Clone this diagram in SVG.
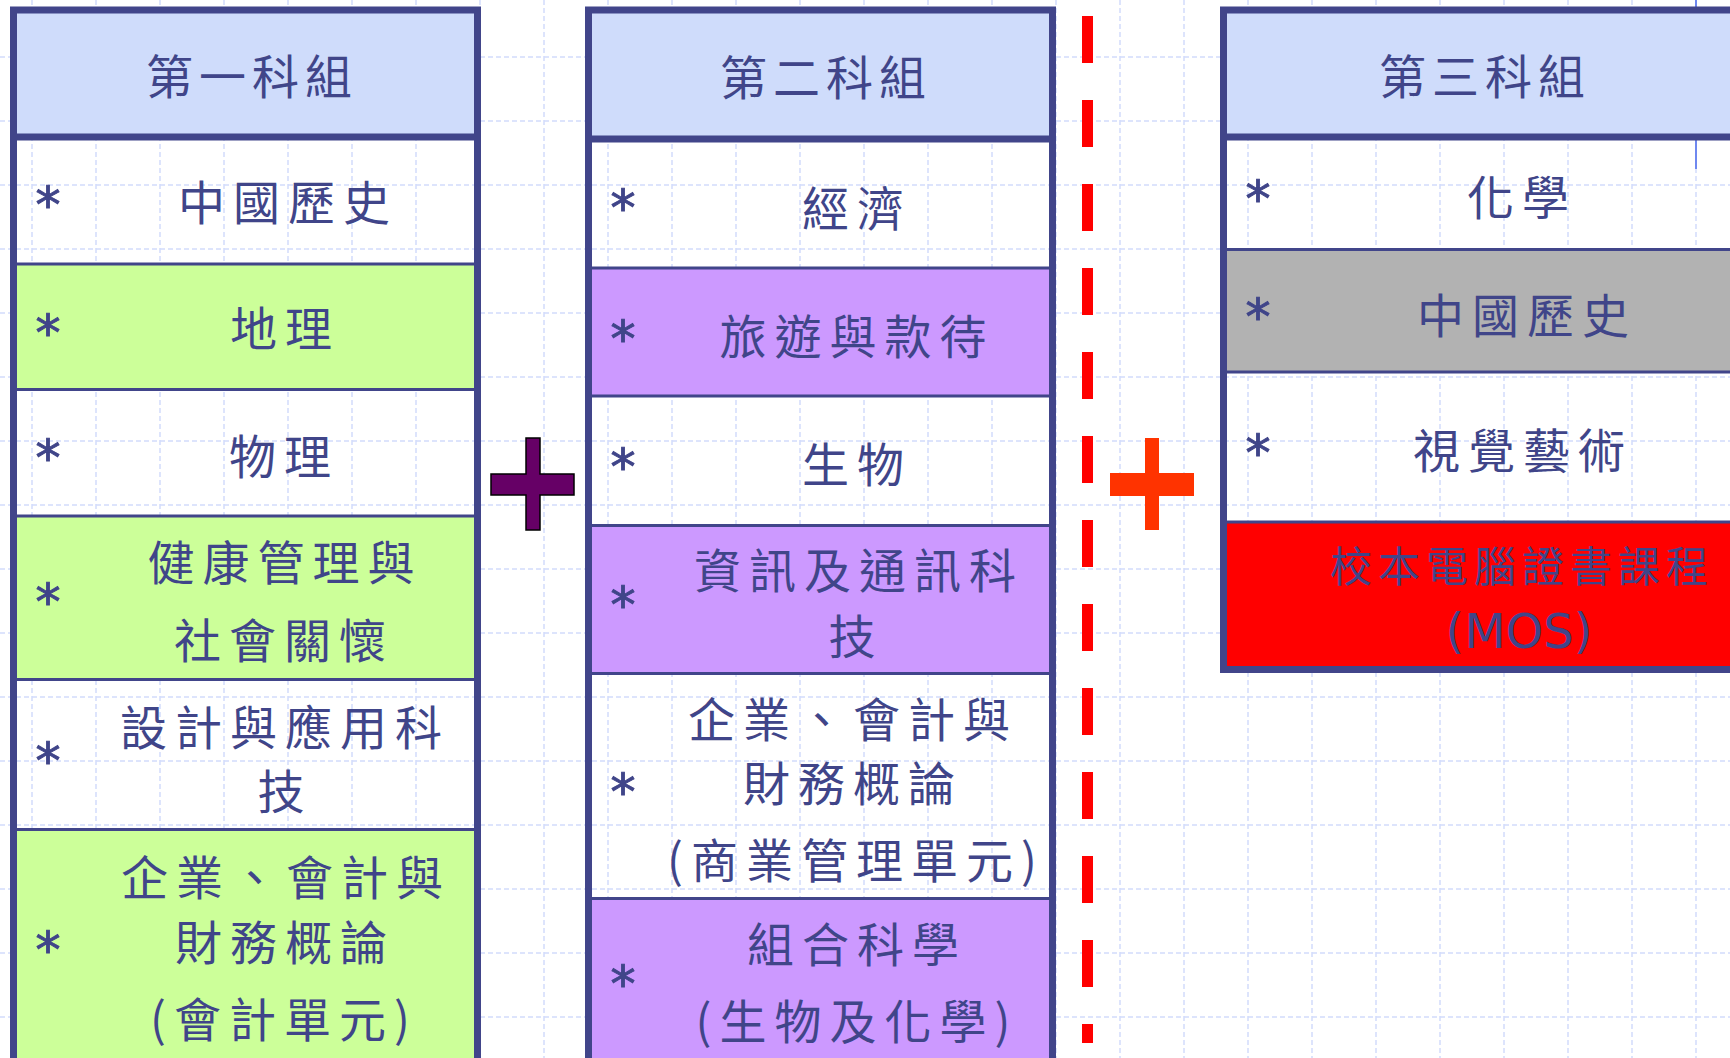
<svg xmlns="http://www.w3.org/2000/svg" width="1730" height="1058" viewBox="0 0 1730 1058">
<style>
.grid line{stroke:#d2dcfb;stroke-width:1.5;stroke-dasharray:5 3}
.b{fill:none;stroke:#41458a;stroke-width:7}
.hs{stroke:#41458a;stroke-width:7}
.rs{stroke:#41458a;stroke-width:3}
.hd{fill:#cfdcfb}
.gr{fill:#ccff99}
.pu{fill:#cc99ff}
.gy{fill:#b2b2b2}
.rd{fill:#ff0000}
.t{font-family:"Noto Sans CJK TC","Noto Sans CJK SC",sans-serif;font-size:47px;fill:#404589;letter-spacing:8px;text-anchor:middle}
.th{font-family:"Noto Sans CJK TC","Noto Sans CJK SC",sans-serif;font-size:47px;fill:#404589;letter-spacing:6px;text-anchor:middle}
.s{font-family:"DejaVu Sans",sans-serif;font-size:50px;fill:#404589;stroke:#404589;stroke-width:1;text-anchor:middle}
</style>
<rect x="0" y="0" width="1730" height="1058" fill="#ffffff"/>
<g class="grid">
<line x1="32" y1="0" x2="32" y2="1058"/><line x1="96" y1="0" x2="96" y2="1058"/><line x1="160" y1="0" x2="160" y2="1058"/><line x1="224" y1="0" x2="224" y2="1058"/><line x1="288" y1="0" x2="288" y2="1058"/><line x1="352" y1="0" x2="352" y2="1058"/><line x1="416" y1="0" x2="416" y2="1058"/><line x1="480" y1="0" x2="480" y2="1058"/><line x1="544" y1="0" x2="544" y2="1058"/><line x1="608" y1="0" x2="608" y2="1058"/><line x1="672" y1="0" x2="672" y2="1058"/><line x1="736" y1="0" x2="736" y2="1058"/><line x1="800" y1="0" x2="800" y2="1058"/><line x1="864" y1="0" x2="864" y2="1058"/><line x1="928" y1="0" x2="928" y2="1058"/><line x1="992" y1="0" x2="992" y2="1058"/><line x1="1056" y1="0" x2="1056" y2="1058"/><line x1="1120" y1="0" x2="1120" y2="1058"/><line x1="1184" y1="0" x2="1184" y2="1058"/><line x1="1248" y1="0" x2="1248" y2="1058"/><line x1="1312" y1="0" x2="1312" y2="1058"/><line x1="1376" y1="0" x2="1376" y2="1058"/><line x1="1440" y1="0" x2="1440" y2="1058"/><line x1="1504" y1="0" x2="1504" y2="1058"/><line x1="1568" y1="0" x2="1568" y2="1058"/><line x1="1632" y1="0" x2="1632" y2="1058"/><line x1="1696" y1="0" x2="1696" y2="1058"/>
<line x1="0" y1="57" x2="1730" y2="57"/><line x1="0" y1="121" x2="1730" y2="121"/><line x1="0" y1="185" x2="1730" y2="185"/><line x1="0" y1="249" x2="1730" y2="249"/><line x1="0" y1="313" x2="1730" y2="313"/><line x1="0" y1="377" x2="1730" y2="377"/><line x1="0" y1="441" x2="1730" y2="441"/><line x1="0" y1="505" x2="1730" y2="505"/><line x1="0" y1="569" x2="1730" y2="569"/><line x1="0" y1="633" x2="1730" y2="633"/><line x1="0" y1="697" x2="1730" y2="697"/><line x1="0" y1="761" x2="1730" y2="761"/><line x1="0" y1="825" x2="1730" y2="825"/><line x1="0" y1="889" x2="1730" y2="889"/><line x1="0" y1="953" x2="1730" y2="953"/><line x1="0" y1="1017" x2="1730" y2="1017"/>
</g>
<line x1="1696" y1="0" x2="1696" y2="169" stroke="#6f88f0" stroke-width="2"/>

<g id="group1">
<g id="g1-header"><rect class="hd" x="17" y="13" width="457" height="124"/><text class="th" x="252" y="94">第一科組</text></g>
<g id="g1-r1"><text class="s" x="48" y="222">*</text><text class="t" x="288" y="220">中國歷史</text></g>
<g id="g1-r2"><rect class="gr" x="17" y="264" width="457" height="125.5"/><text class="s" x="48" y="350">*</text><text class="t" x="285" y="346">地理</text></g>
<g id="g1-r3"><text class="s" x="48" y="475">*</text><text class="t" x="284" y="474">物理</text></g>
<g id="g1-r4"><rect class="gr" x="17" y="516" width="457" height="163.5"/><text class="s" x="48" y="619">*</text><text class="t" x="285" y="580">健康管理與</text><text class="t" x="284" y="658">社會關懷</text></g>
<g id="g1-r5"><text class="s" x="48" y="778">*</text><text class="t" x="285" y="745">設計與應用科</text><text class="t" x="285" y="809">技</text></g>
<g id="g1-r6"><rect class="gr" x="17" y="829.5" width="457" height="240"/><text class="s" x="48" y="967">*</text><text class="t" x="286" y="895">企業、會計與</text><text class="t" x="285" y="960">財務概論</text><text class="t" x="284" y="1037">(會計單元)</text></g>
<line class="rs" x1="17" y1="264" x2="474" y2="264"/><line class="rs" x1="17" y1="389.5" x2="474" y2="389.5"/><line class="rs" x1="17" y1="516" x2="474" y2="516"/><line class="rs" x1="17" y1="679.5" x2="474" y2="679.5"/><line class="rs" x1="17" y1="829.5" x2="474" y2="829.5"/>
<line class="hs" x1="13" y1="137" x2="478" y2="137"/>
<rect class="b" x="13.5" y="10" width="464" height="1060"/>
</g>

<g id="group2">
<g id="g2-header"><rect class="hd" x="592" y="13" width="457" height="126"/><text class="th" x="826" y="95">第二科組</text></g>
<g id="g2-r1"><text class="s" x="623" y="225">*</text><text class="t" x="857" y="226">經濟</text></g>
<g id="g2-r2"><rect class="pu" x="592" y="268" width="457" height="128"/><text class="s" x="623" y="356">*</text><text class="t" x="857" y="354">旅遊與款待</text></g>
<g id="g2-r3"><text class="s" x="623" y="484">*</text><text class="t" x="857" y="482">生物</text></g>
<g id="g2-r4"><rect class="pu" x="592" y="525.5" width="457" height="148"/><text class="s" x="623" y="622">*</text><text class="t" x="859" y="588">資訊及通訊科</text><text class="t" x="856" y="654">技</text></g>
<g id="g2-r5"><text class="s" x="623" y="809">*</text><text class="t" x="853" y="737">企業、會計與</text><text class="t" x="853" y="801">財務概論</text><text class="t" x="856" y="878">(商業管理單元)</text></g>
<g id="g2-r6"><rect class="pu" x="592" y="898.5" width="457" height="170"/><text class="s" x="623" y="1001">*</text><text class="t" x="857" y="962">組合科學</text><text class="t" x="857" y="1039">(生物及化學)</text></g>
<line class="rs" x1="592" y1="268" x2="1049" y2="268"/><line class="rs" x1="592" y1="396" x2="1049" y2="396"/><line class="rs" x1="592" y1="525.5" x2="1049" y2="525.5"/><line class="rs" x1="592" y1="673.5" x2="1049" y2="673.5"/><line class="rs" x1="592" y1="898.5" x2="1049" y2="898.5"/>
<line class="hs" x1="588" y1="139" x2="1053" y2="139"/>
<rect class="b" x="588.5" y="10" width="464" height="1060"/>
</g>

<g id="group3">
<g id="g3-header"><rect class="hd" x="1227" y="13" width="510" height="124"/><text class="th" x="1485" y="94">第三科組</text></g>
<g id="g3-r1"><text class="s" x="1258" y="216">*</text><text class="t" x="1522" y="215">化學</text></g>
<g id="g3-r2"><rect class="gy" x="1227" y="249.5" width="510" height="122.5"/><text class="s" x="1258" y="334">*</text><text class="t" x="1527" y="333">中國歷史</text></g>
<g id="g3-r3"><text class="s" x="1258" y="470">*</text><text class="t" x="1523" y="468">視覺藝術</text></g>
<g id="g3-r4"><rect class="rd" x="1227" y="522" width="510" height="144"/><text class="t" x="1522" y="582" style="font-size:42px;letter-spacing:6px">校本電腦證書課程</text><text x="1519" y="648" style="font-family:'DejaVu Sans',sans-serif;font-size:48px;fill:#404589;text-anchor:middle">(MOS)</text></g>
<line class="rs" x1="1227" y1="249.5" x2="1737" y2="249.5"/><line class="rs" x1="1227" y1="372" x2="1737" y2="372"/><line class="rs" x1="1227" y1="522" x2="1737" y2="522"/>
<line class="hs" x1="1223" y1="137" x2="1737" y2="137"/>
<rect class="b" x="1223.5" y="10" width="520" height="659.5"/>
</g>

<g id="connectors">
<path id="plus1" d="M526,438 H540 V474 H574 V495 H540 V530 H526 V495 H491 V474 H526 Z" fill="#660066" stroke="#000000" stroke-width="1.5"/>
<line id="divider" x1="1087.5" y1="16" x2="1087.5" y2="1043" stroke="#ff0000" stroke-width="11" stroke-dasharray="47 37"/>
<path id="plus2" d="M1145,438 H1159 V473 H1194 V496 H1159 V530 H1145 V496 H1110 V473 H1145 Z" fill="#ff3300"/>
</g>
</svg>
